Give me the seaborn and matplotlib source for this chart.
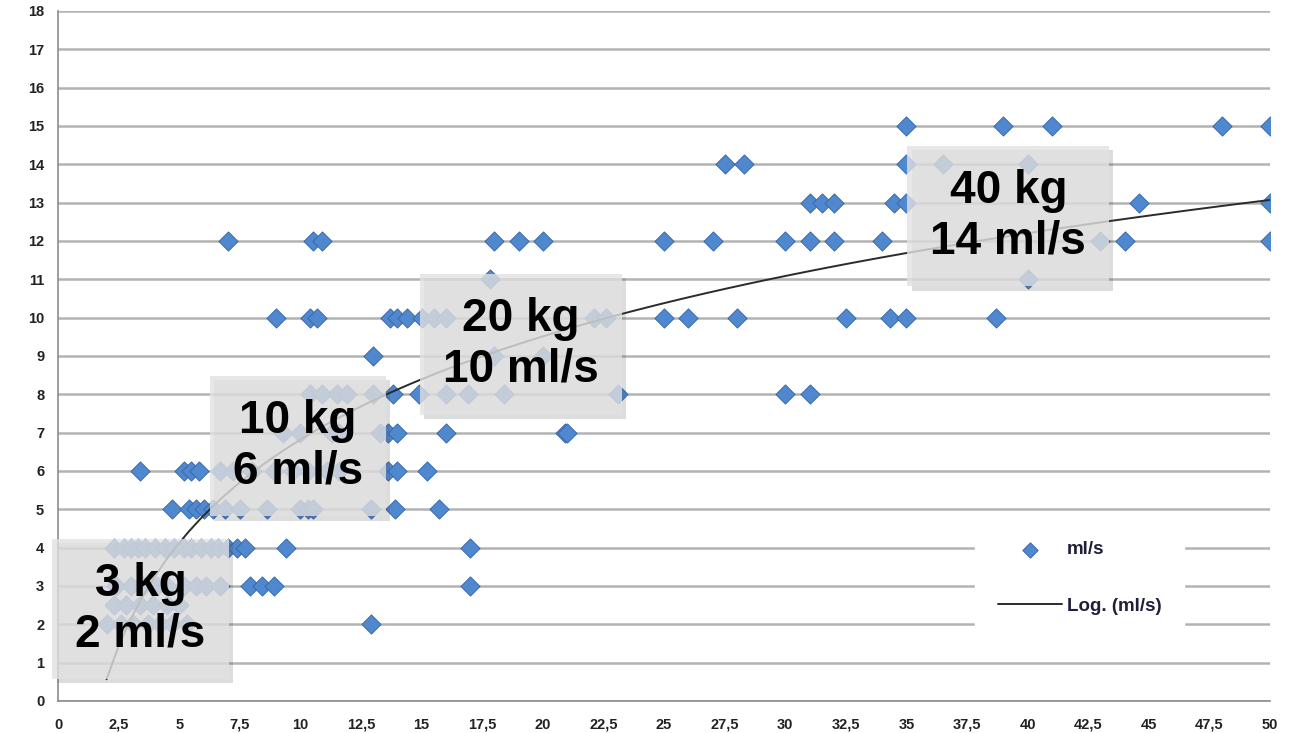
import numpy as np
import pandas as pd
import matplotlib
matplotlib.use("Agg")
import matplotlib.pyplot as plt
import matplotlib.patheffects as pe
import seaborn as sns

# weight (kg) and flow (ml/s)
kg_15 = [35, 39, 41, 48, 50]
kg_14 = [27.5, 28.3, 35, 36.5, 40]
kg_13 = [31, 31.5, 32, 34.5, 35, 44.6, 50]
kg_12 = [7, 10.5, 10.9, 18, 19, 20, 25, 27, 30, 31, 32, 34, 43, 44, 50]
kg_11 = [17.8, 40]
kg_10 = [9, 10.4, 10.7, 13.7, 14, 14.4, 15, 15.5, 16, 22.1, 22.6,
         25, 26, 28, 32.5, 34.3, 35, 38.7]
kg_9 = [13, 18, 20]
kg_8 = [10.4, 10.9, 11.5, 11.9, 13, 13.8, 14.9, 16, 16.9, 18.4, 23.1, 30, 31]
kg_7 = [9.3, 10, 11.3, 11.6, 13.3, 13.6, 14, 16, 20.9, 21]
kg_6 = [3.4, 5.2, 5.5, 5.8, 6.7, 7.2, 8.0, 8.9, 9.7, 10.3, 11.1, 11.6,
        13.6, 14.0, 15.2]
kg_5 = [4.7, 5.4, 5.7, 6, 6.4, 6.9, 7.5, 8.6, 10, 10.3, 10.5, 12.9, 13.9, 15.7]
kg_4 = [2.3, 2.7, 3.0, 3.3, 3.6, 4.0, 4.4, 4.8, 5.2, 5.5, 5.9, 6.3, 6.6,
        7.0, 7.4, 7.7, 9.4, 17]
kg_3 = [2.4, 3.0, 3.5, 4.1, 4.5, 5.2, 5.7, 6.1, 6.7, 7.9, 8.4, 8.9, 17]
kg_25 = [2.3, 2.8, 3.4, 3.9, 4.5, 5.0]
kg_2 = [2.0, 2.6, 3.1, 3.7, 4.2, 4.7, 5.3, 12.9]

rows = {15: kg_15, 14: kg_14, 13: kg_13, 12: kg_12, 11: kg_11, 10: kg_10,
        9: kg_9, 8: kg_8, 7: kg_7, 6: kg_6, 5: kg_5, 4: kg_4, 3: kg_3,
        2.5: kg_25, 2: kg_2}

notes = ["3 kg\n2 ml/s", "10 kg\n6 ml/s", "20 kg\n10 ml/s", "40 kg\n14 ml/s"]
note_x = [3.4, 9.9, 19.1, 39.2]
note_y = [2.4, 6.65, 9.3, 12.65]

df = pd.DataFrame([(k, f) for f, ks in rows.items() for k in ks],
                  columns=["kg", "mls"])

sns.set_style("white")
plt.rcParams["font.family"] = ["Liberation Sans", "DejaVu Sans"]

fig, ax = plt.subplots(figsize=(12.96, 7.33), dpi=100)
fig.subplots_adjust(left=0.0448, right=0.98, bottom=0.0437, top=0.985)

sns.scatterplot(data=df, x="kg", y="mls", marker="D", s=95,
                color="#5088d0", edgecolor="#3a69a8", linewidth=0.7,
                label="ml/s", zorder=3, ax=ax)
sns.regplot(data=df, x="kg", y="mls", logx=True, scatter=False, ci=None,
            label="Log. (ml/s)",
            line_kws={"color": "#2b2b2b", "lw": 1.4, "zorder": 4}, ax=ax)

for txt, x, y in zip(notes, note_x, note_y):
    t = ax.text(x, y, txt, ha="center", va="center", fontsize=33,
                fontweight="bold", linespacing=1.2, color="black", zorder=6,
                bbox=dict(boxstyle="square,pad=0.5", fc="#e2e2e2",
                          ec="none", alpha=0.8))
    t.get_bbox_patch().set_path_effects(
        [pe.SimplePatchShadow(offset=(3, -3), alpha=0.18), pe.Normal()])

ax.set_xlim(0, 50)
ax.set_ylim(0, 18)
xt = np.arange(0, 50.1, 2.5)
ax.set_xticks(xt)
ax.set_xticklabels([f"{v:g}".replace(".", ",") for v in xt])
ax.set_yticks(range(0, 19))
ax.tick_params(axis="both", labelsize=10.5, length=4, color="#7f7f7f",
               direction="out", pad=6)
ax.tick_params(axis="x", pad=8)
for lab in ax.get_xticklabels() + ax.get_yticklabels():
    lab.set_fontweight("bold")
    lab.set_color("#222222")
ax.yaxis.grid(True, color="#b3b3b3", lw=1.8)
ax.set_axisbelow(True)
sns.despine(ax=ax)
for side in ["left", "bottom"]:
    ax.spines[side].set_color("#8c8c8c")
    ax.spines[side].set_linewidth(1.2)
ax.set_xlabel("")
ax.set_ylabel("")

leg = ax.legend(loc="center", bbox_to_anchor=(0.843, 0.178), frameon=True,
                fancybox=False, edgecolor="white", framealpha=1,
                prop={"size": 13.5, "weight": "bold"}, labelspacing=2.1,
                handlelength=3.4, borderpad=1.2, handletextpad=0.3,
                markerscale=0.8)
leg.set_zorder(7)
for txt in leg.get_texts():
    txt.set_color("#1f1f3a")

fig.savefig("out.png", dpi=100)
